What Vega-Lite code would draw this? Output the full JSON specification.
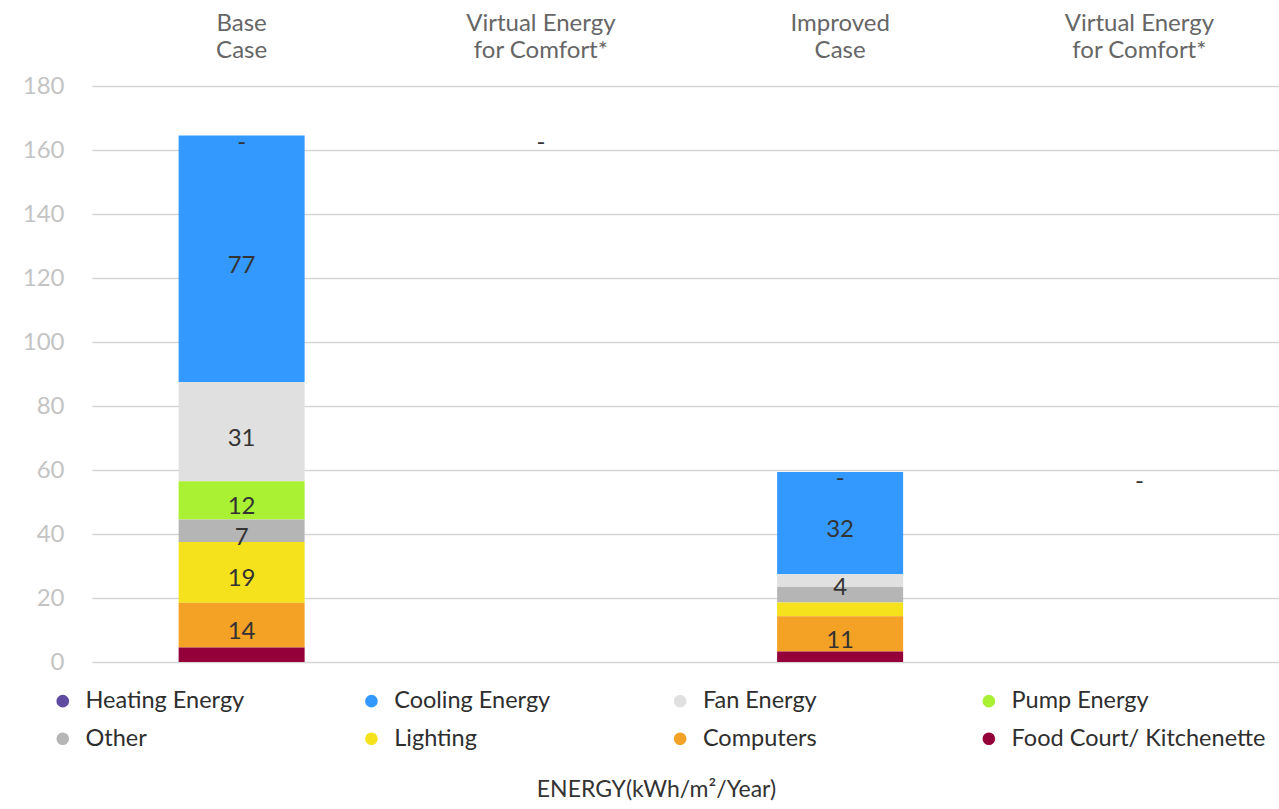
{
  "$schema": "https://vega.github.io/schema/vega-lite/v6.json",
  "autosize": {"type": "none"},
  "padding": {"left": 92, "top": 86, "right": 0, "bottom": 147},
  "width": 1187,
  "height": 576,
  "background": "#ffffff",
  "title": {
    "text": "ENERGY(kWh/m²/Year)",
    "orient": "bottom",
    "anchor": "middle",
    "frame": "group",
    "font": "Lato",
    "fontSize": 23,
    "fontWeight": "normal",
    "color": "#333333",
    "dx": -29,
    "offset": 28
  },
  "datasets": {
    "energy": [
      {"col": "Base Case", "cat": "Heating Energy", "value": 0, "stackOrder": 8, "label": "-"},
      {"col": "Base Case", "cat": "Cooling Energy", "value": 77, "stackOrder": 7, "label": "77"},
      {"col": "Base Case", "cat": "Fan Energy", "value": 31, "stackOrder": 6, "label": "31"},
      {"col": "Base Case", "cat": "Pump Energy", "value": 12, "stackOrder": 5, "label": "12"},
      {"col": "Base Case", "cat": "Other", "value": 7, "stackOrder": 4, "label": "7"},
      {"col": "Base Case", "cat": "Lighting", "value": 19, "stackOrder": 3, "label": "19"},
      {"col": "Base Case", "cat": "Computers", "value": 14, "stackOrder": 2, "label": "14"},
      {"col": "Base Case", "cat": "Food Court/ Kitchenette", "value": 4.5, "stackOrder": 1, "label": null},
      {"col": "Improved Case", "cat": "Heating Energy", "value": 0, "stackOrder": 8, "label": "-"},
      {"col": "Improved Case", "cat": "Cooling Energy", "value": 32, "stackOrder": 7, "label": "32"},
      {"col": "Improved Case", "cat": "Fan Energy", "value": 4, "stackOrder": 6, "label": "4"},
      {"col": "Improved Case", "cat": "Pump Energy", "value": 0, "stackOrder": 5, "label": null},
      {"col": "Improved Case", "cat": "Other", "value": 4.8, "stackOrder": 4, "label": null},
      {"col": "Improved Case", "cat": "Lighting", "value": 4.3, "stackOrder": 3, "label": null},
      {"col": "Improved Case", "cat": "Computers", "value": 11, "stackOrder": 2, "label": "11"},
      {"col": "Improved Case", "cat": "Food Court/ Kitchenette", "value": 3.3, "stackOrder": 1, "label": null}
    ],
    "virtual": [
      {"col": "Base Virtual", "level": 164.5, "label": "-"},
      {"col": "Improved Virtual", "level": 58.5, "label": "-"}
    ]
  },
  "encoding": {
    "x": {
      "field": "col",
      "type": "nominal",
      "title": null,
      "scale": {
        "domain": ["Base Case", "Base Virtual", "Improved Case", "Improved Virtual"],
        "range": [0, 1197],
        "paddingInner": 0,
        "paddingOuter": 0
      },
      "axis": {
        "orient": "top",
        "labelExpr": "datum.value == 'Base Case' ? ['Base', 'Case'] : datum.value == 'Improved Case' ? ['Improved', 'Case'] : ['Virtual Energy', 'for Comfort*']"
      }
    }
  },
  "layer": [
    {
      "data": {"name": "energy"},
      "transform": [
        {"stack": "value", "groupby": ["col"], "sort": [{"field": "stackOrder", "order": "ascending"}], "as": ["y0", "y1"]}
      ],
      "mark": {"type": "bar", "width": 126},
      "encoding": {
        "y": {"field": "y0", "type": "quantitative", "title": null, "scale": {"domain": [0, 180], "nice": false}},
        "y2": {"field": "y1"},
        "color": {
          "field": "cat",
          "type": "nominal",
          "scale": {
            "domain": ["Heating Energy", "Cooling Energy", "Fan Energy", "Pump Energy", "Other", "Lighting", "Computers", "Food Court/ Kitchenette"],
            "range": ["#5f4b9f", "#3399ff", "#e0e0e0", "#aaf033", "#b5b5b5", "#f5e21c", "#f4a226", "#94003a"]
          },
          "legend": {
            "orient": "none",
            "direction": "horizontal",
            "legendX": -41,
            "legendY": 603,
            "columns": 4,
            "columnPadding": 19.7,
            "rowPadding": 13,
            "gridAlign": "all",
            "title": null,
            "symbolType": "circle",
            "symbolSize": 160,
            "symbolStrokeWidth": 0,
            "labelFont": "Lato",
            "labelFontSize": 23.5,
            "labelColor": "#2e2e2e",
            "labelOffset": 11,
            "labelLimit": 400
          }
        }
      }
    },
    {
      "data": {"name": "energy"},
      "transform": [
        {"stack": "value", "groupby": ["col"], "sort": [{"field": "stackOrder", "order": "ascending"}], "as": ["y0", "y1"]},
        {"filter": "datum.label != null"},
        {"fold": ["y0", "y1"], "as": ["edge", "pos"]}
      ],
      "mark": {"type": "text", "font": "Lato", "fontSize": 24, "fill": "#333333", "baseline": "middle", "dy": 7},
      "encoding": {
        "y": {"aggregate": "mean", "field": "pos", "type": "quantitative", "title": null},
        "detail": {"field": "cat"},
        "text": {"field": "label"}
      }
    },
    {
      "data": {"name": "virtual"},
      "mark": {"type": "text", "font": "Lato", "fontSize": 24, "fill": "#333333", "baseline": "middle", "dy": 7},
      "encoding": {
        "y": {"field": "level", "type": "quantitative", "title": null},
        "text": {"field": "label"}
      }
    }
  ],
  "config": {
    "view": {"stroke": null},
    "axisX": {
      "domain": false,
      "ticks": false,
      "grid": false,
      "labelAngle": 0,
      "labelFont": "Lato",
      "labelFontSize": 24,
      "labelColor": "#666666",
      "labelLineHeight": 27,
      "labelPadding": 51
    },
    "axisY": {
      "domain": false,
      "ticks": false,
      "tickCount": 9,
      "labelFont": "Lato",
      "labelFontSize": 24,
      "labelColor": "#c4c4c4",
      "labelPadding": 28,
      "gridColor": "#d6d6d6",
      "gridWidth": 1.5
    }
  }
}
